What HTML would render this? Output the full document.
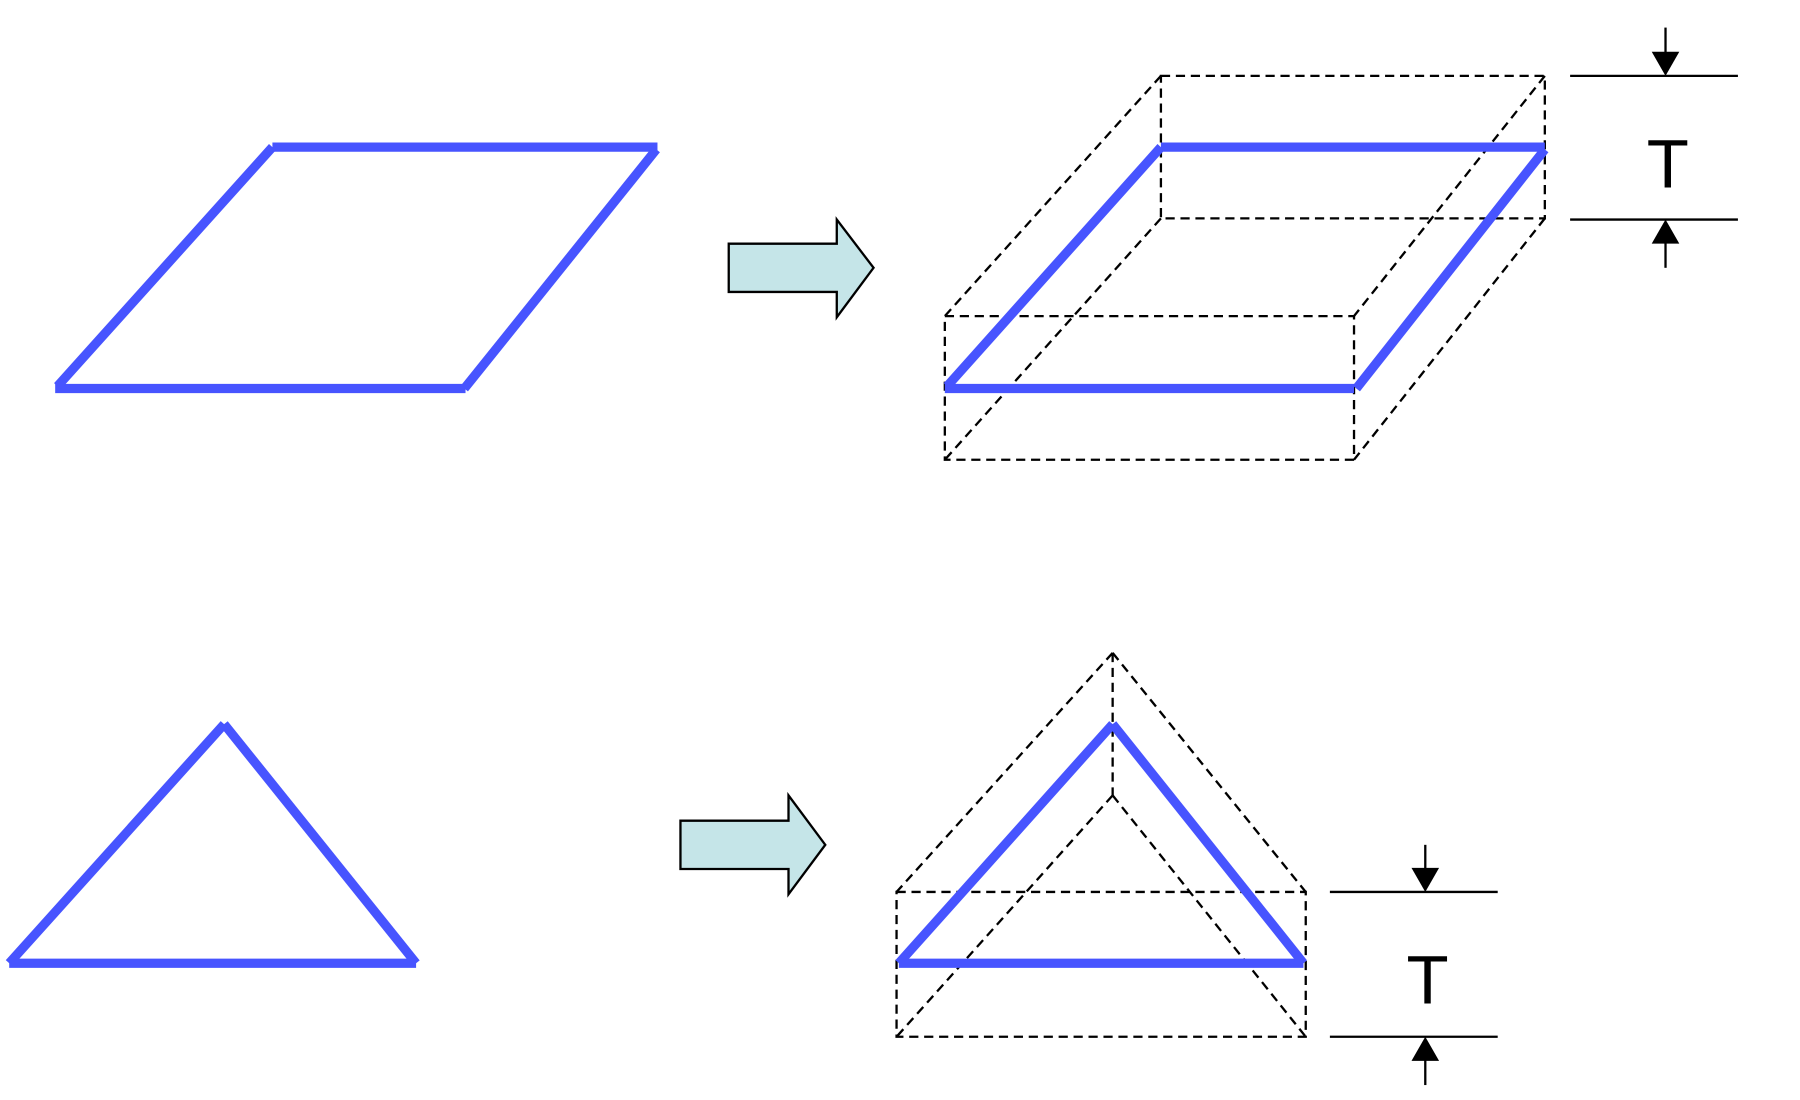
<!DOCTYPE html>
<html><head><meta charset="utf-8"><style>html,body{margin:0;padding:0;background:#fff}svg{display:block}</style></head>
<body>
<svg width="1800" height="1100" viewBox="0 0 1566 957" preserveAspectRatio="none" xmlns="http://www.w3.org/2000/svg">
<g fill="none" stroke="#4754ff" stroke-width="8">
<line x1="237" y1="128" x2="572" y2="128"/>
<line x1="571" y1="130" x2="404" y2="338"/>
<line x1="48" y1="338" x2="405" y2="338"/>
<line x1="50" y1="336" x2="237" y2="128"/>
<line x1="195" y1="630" x2="8" y2="838"/>
<line x1="195" y1="630" x2="362" y2="838"/>
<line x1="8" y1="838" x2="362" y2="838"/>
</g>
<g fill="#c5e5e8" stroke="#000" stroke-width="2">
<path d="M634,212 L728,212 L728,191 L760,233 L728,276 L728,254 L634,254 Z"/>
<path d="M592,714 L686,714 L686,692 L718,735 L686,778 L686,756 L592,756 Z"/>
</g>
<g fill="none" stroke="#000" stroke-width="2" stroke-dasharray="8,5">
<path d="M1010,66 L1344,66 L1344,190 L1010,190 Z"/>
<path d="M822,275 L1178,275 L1178,400 L822,400 Z"/>
<line x1="1010" y1="66" x2="822" y2="275"/>
<line x1="1344" y1="66" x2="1178" y2="275"/>
<line x1="1010" y1="190" x2="822" y2="400"/>
<line x1="1344" y1="190" x2="1178" y2="400"/>
<path d="M780,776 L1136,776 L1136,902 L780,902 Z"/>
<line x1="968" y1="568" x2="968" y2="692"/>
<line x1="968" y1="568" x2="780" y2="776"/>
<line x1="968" y1="568" x2="1136" y2="776"/>
<line x1="968" y1="692" x2="780" y2="902"/>
<line x1="968" y1="692" x2="1136" y2="902"/>
</g>
<g fill="none" stroke="#4754ff" stroke-width="8">
<line x1="1010" y1="128" x2="1344" y2="128"/>
<line x1="1344" y1="130" x2="1180" y2="338"/>
<line x1="822" y1="338" x2="1178" y2="338"/>
<line x1="824" y1="336" x2="1010" y2="128"/>
<line x1="968" y1="630" x2="782" y2="838"/>
<line x1="968" y1="630" x2="1134" y2="838"/>
<line x1="782" y1="838" x2="1134" y2="838"/>
</g>
<g stroke="#000" stroke-width="2">
<line x1="1366" y1="66" x2="1512" y2="66"/>
<line x1="1366" y1="191" x2="1512" y2="191"/>
<line x1="1449" y1="24" x2="1449" y2="50"/>
<line x1="1449" y1="233" x2="1449" y2="207"/>
<line x1="1157" y1="776" x2="1303" y2="776"/>
<line x1="1157" y1="902" x2="1303" y2="902"/>
<line x1="1240" y1="735" x2="1240" y2="760"/>
<line x1="1240" y1="944" x2="1240" y2="918"/>
</g>
<g fill="#000">
<polygon points="1437,45 1461,45 1449,66"/>
<polygon points="1437,212 1461,212 1449,191"/>
<polygon points="1228,755 1252,755 1240,776"/>
<polygon points="1228,923 1252,923 1240,902"/>
</g>
<g font-family="Liberation Sans, sans-serif" font-size="60" text-anchor="middle" fill="#000">
<text x="1451" y="163">T</text>
<text x="1242" y="873">T</text>
</g>
</svg>
</body></html>
